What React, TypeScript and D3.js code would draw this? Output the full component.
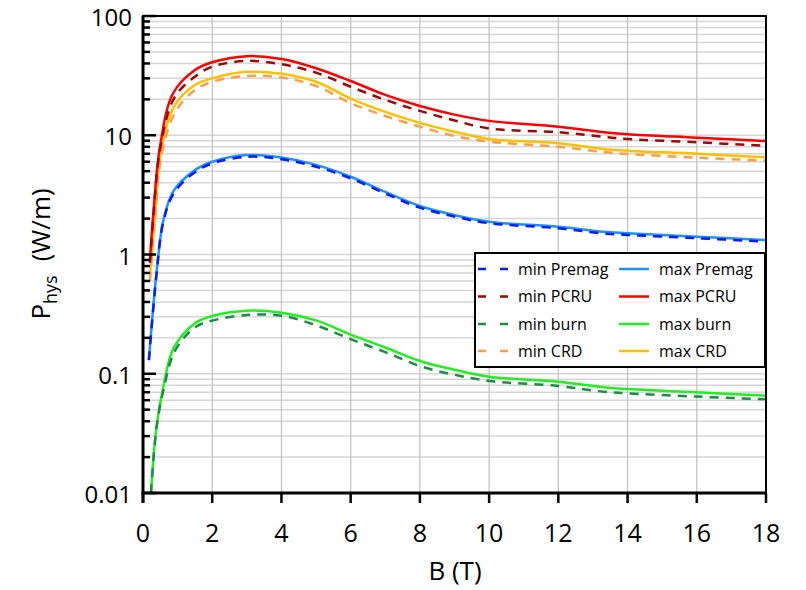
import React from "react";
import * as d3 from "d3";

const xTicks = [0, 2, 4, 6, 8, 10, 12, 14, 16, 18];
const yTickLabels = ["0.01", "0.1", "1", "10", "100"];
const yTickValues = [0.01, 0.1, 1, 10, 100];

const bMaxPremag = [0.17, 0.39, 0.59, 0.88, 1.5, 2, 3, 4, 5, 6, 7, 8, 9, 10, 12, 13.3, 14, 16, 18];
const vMaxPremag = [0.13, 0.7, 1.95, 3.4, 5.1, 6.0, 6.82, 6.5, 5.64, 4.49, 3.35, 2.55, 2.14, 1.88, 1.71, 1.55, 1.51, 1.41, 1.32];
const bMinPremag = [0.17, 0.39, 0.59, 0.9, 1.5, 2, 3, 4, 5, 6, 7, 8, 9, 10, 12, 13.3, 14, 16, 18];
const vMinPremag = [0.13, 0.68, 1.9, 3.3, 4.9, 5.8, 6.6, 6.3, 5.45, 4.35, 3.25, 2.47, 2.08, 1.83, 1.66, 1.5, 1.46, 1.37, 1.28];

const bMaxPCRU = [0.2, 0.3, 0.49, 0.87, 1.5, 2, 3, 4, 5, 6, 7, 8, 9, 10, 12, 13.3, 14, 16, 18];
const vMaxPCRU = [0.9, 2.23, 8.0, 22.5, 35.2, 40.9, 46, 43.6, 36.5, 28.5, 21.8, 17.6, 14.9, 13.2, 11.8, 10.6, 10.2, 9.55, 8.95];
const bMinPCRU = [0.2, 0.3, 0.5, 0.9, 1.5, 2, 3, 4, 5, 6, 7, 8, 9, 10, 12, 13.3, 14, 16, 18];
const vMinPCRU = [0.85, 2.1, 7.8, 20.5, 31, 37.6, 42, 39.4, 33.5, 25.5, 19.8, 16.0, 13.3, 11.4, 10.6, 9.7, 9.3, 8.73, 8.17];

const bMaxBurn = [0.23, 0.39, 0.59, 0.88, 1.5, 2, 3, 4, 5, 6, 7, 8, 9, 10, 12, 13.3, 14, 16, 18];
const vMaxBurn = [0.01, 0.036, 0.078, 0.163, 0.265, 0.305, 0.338, 0.325, 0.28, 0.213, 0.166, 0.128, 0.108, 0.0945, 0.0857, 0.0769, 0.0745, 0.0698, 0.0655];
const bMinBurn = [0.23, 0.39, 0.6, 0.92, 1.5, 2, 3, 4, 5, 6, 7, 8, 9, 10, 12, 13.3, 14, 16, 18];
const vMinBurn = [0.01, 0.035, 0.075, 0.155, 0.245, 0.279, 0.311, 0.307, 0.255, 0.195, 0.152, 0.116, 0.098, 0.087, 0.0789, 0.0707, 0.0685, 0.0643, 0.0611];

const bMaxCRD = [0.2, 0.35, 0.54, 0.9, 1.5, 2, 3, 4, 5, 6, 7, 8, 9, 10, 12, 13.3, 14, 16, 18];
const vMaxCRD = [0.65, 2.2, 8.0, 17.5, 26.4, 30, 34, 32.8, 28.1, 20.3, 15.7, 12.7, 10.7, 9.3, 8.56, 7.67, 7.42, 7.0, 6.53];
const bMinCRD = [0.2, 0.35, 0.55, 0.95, 1.5, 2, 3, 4, 5, 6, 7, 8, 9, 10, 12, 13.3, 14, 16, 18];
const vMinCRD = [0.6, 2.0, 7.2, 16, 23.9, 28.1, 31.4, 30.5, 25.9, 18.6, 14.5, 11.8, 9.86, 8.84, 8.0, 7.24, 6.97, 6.49, 6.12];

const seriesNames = ["min Premag", "max Premag", "min PCRU", "max PCRU", "min burn", "max burn", "min CRD", "max CRD"];

type S = { name: string; b: number[]; v: number[]; color: string; dashed: boolean };
const series: S[] = [
  { name: seriesNames[1], b: bMaxPremag, v: vMaxPremag, color: "#1E90FF", dashed: false },
  { name: seriesNames[0], b: bMinPremag, v: vMinPremag, color: "#0A1EF0", dashed: true },
  { name: seriesNames[5], b: bMaxBurn, v: vMaxBurn, color: "#22EE22", dashed: false },
  { name: seriesNames[4], b: bMinBurn, v: vMinBurn, color: "#1E8C46", dashed: true },
  { name: seriesNames[7], b: bMaxCRD, v: vMaxCRD, color: "#FFC000", dashed: false },
  { name: seriesNames[6], b: bMinCRD, v: vMinCRD, color: "#F9A04A", dashed: true },
  { name: seriesNames[3], b: bMaxPCRU, v: vMaxPCRU, color: "#FF0000", dashed: false },
  { name: seriesNames[2], b: bMinPCRU, v: vMinPCRU, color: "#9B0A0A", dashed: true },
];

const W = 806, H = 590;
const L = 143, R = 766, T = 16, B = 493;
const FONT = "'Open Sans', 'Noto Sans', sans-serif";

export default function App() {
  const x = d3.scaleLinear().domain([0, 18]).range([L, R]);
  const y = d3.scaleLog().domain([0.01, 100]).range([B, T]);
  const line = d3
    .line<[number, number]>()
    .x((d) => x(d[0]))
    .y((d) => y(d[1]))
    .curve(d3.curveCatmullRom.alpha(0.5));

  const minor: number[] = [];
  for (let e = -2; e < 2; e++) {
    for (let k = 2; k <= 9; k++) minor.push(k * Math.pow(10, e));
  }
  const colorOf = (n: string) => series.find((s) => s.name === n)!;

  const legX = 475, legY = 253, legW = 290, legH = 114;
  const rowY = [269, 296.5, 324, 351];

  return (
    <svg width={W} height={H} style={{ position: "absolute", left: 0, top: 0, background: "#fff" }} fontFamily={FONT}>
      <rect x={0} y={0} width={W} height={H} fill="#fff" />
      {minor.concat(yTickValues).map((v, i) => (
        <line key={"h" + i} x1={L} x2={R} y1={y(v)} y2={y(v)} stroke="#d6d6d6" strokeWidth={1.5} />
      ))}
      {xTicks.map((t) => (
        <line key={"v" + t} x1={x(t)} x2={x(t)} y1={T} y2={B} stroke="#c4c4c4" strokeWidth={1.3} />
      ))}
      {series.map((s) => (
        <path
          key={s.name}
          d={line(s.b.map((b, i) => [b, s.v[i]] as [number, number])) || ""}
          fill="none"
          stroke={s.color}
          strokeWidth={2.5}
          strokeDasharray={s.dashed ? "9,7" : undefined}
        />
      ))}
      <rect x={L} y={T} width={R - L} height={B - T} fill="none" stroke="#000" strokeWidth={2} />
      <line x1={L} x2={L} y1={T} y2={B + 10} stroke="#000" strokeWidth={3} />
      <line x1={L - 1.5} x2={R + 1} y1={B} y2={B} stroke="#000" strokeWidth={3} />
      {yTickValues.map((v) => (
        <line key={"yt" + v} x1={L} x2={L + 13} y1={y(v)} y2={y(v)} stroke="#000" strokeWidth={2.5} />
      ))}
      {minor.map((v, i) => (
        <line key={"ym" + i} x1={L} x2={L + 7} y1={y(v)} y2={y(v)} stroke="#000" strokeWidth={2.5} />
      ))}
      {yTickValues.map((v, i) => (
        <text key={"yl" + v} x={L - 11} y={y(v) + 10} textAnchor="end" fontSize={24} fill="#000">
          {yTickLabels[i]}
        </text>
      ))}
      {xTicks.map((t) => (
        <line key={"xt" + t} x1={x(t)} x2={x(t)} y1={B} y2={B + 10} stroke="#000" strokeWidth={2.5} />
      ))}
      {xTicks.map((t) => (
        <text key={"xl" + t} x={x(t)} y={542} textAnchor="middle" fontSize={25} fill="#000">
          {t}
        </text>
      ))}
      <text x={455} y={580} textAnchor="middle" fontSize={26} fill="#000">
        B (T)
      </text>
      <g transform="translate(50,254) rotate(-90)">
        <text x={0} y={0} textAnchor="middle" fontSize={26} fill="#000">
          P
          <tspan fontSize={18} dy={7}>hys</tspan>
          <tspan dy={-7} dx={14}>(W/m)</tspan>
        </text>
      </g>
      <rect x={legX} y={legY} width={legW} height={legH} fill="#fff" stroke="#000" strokeWidth={2} />
      {[0, 1, 2, 3].map((r) => {
        const mn = colorOf(seriesNames[r * 2]);
        const mx = colorOf(seriesNames[r * 2 + 1]);
        return (
          <g key={"lg" + r}>
            <line x1={478} x2={508} y1={rowY[r]} y2={rowY[r]} stroke={mn.color} strokeWidth={2.5} strokeDasharray="8,14" />
            <text x={518} y={rowY[r]} dy="0.35em" fontSize={16} fill="#000">
              {mn.name}
            </text>
            <line x1={619} x2={649} y1={rowY[r]} y2={rowY[r]} stroke={mx.color} strokeWidth={2.5} />
            <text x={659} y={rowY[r]} dy="0.35em" fontSize={16} fill="#000">
              {mx.name}
            </text>
          </g>
        );
      })}
    </svg>
  );
}
